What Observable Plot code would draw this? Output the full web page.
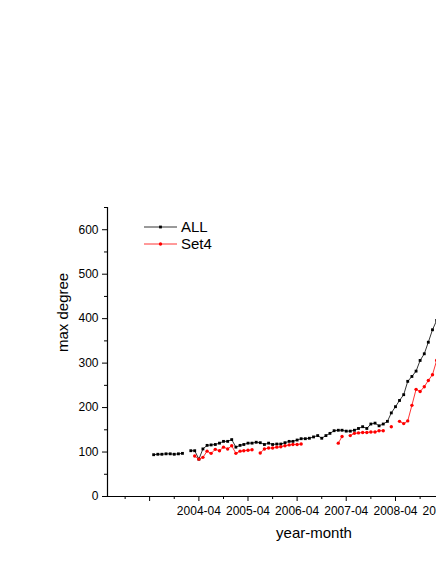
<!DOCTYPE html>
<html>
<head>
<meta charset="utf-8">
<script src="https://cdn.jsdelivr.net/npm/d3@7"></script>
<script src="https://cdn.jsdelivr.net/npm/@observablehq/plot@0.6"></script>
<style>
  html, body { margin: 0; padding: 0; background: #fff; overflow: hidden; }
  #wrap { position: relative; width: 436px; height: 564px; overflow: hidden; background: #fff; }
  #wrap svg { max-width: none !important; display: block; }
  #legend { position: absolute; left: 0; top: 0; pointer-events: none; }
</style>
</head>
<body>
<div id="wrap"></div>
<script>
// Months (year-month) of the observations
const months = [
  "2003-05","2003-06","2003-07","2003-08","2003-09","2003-10","2003-11","2003-12",
  "2004-01","2004-02","2004-03","2004-04","2004-05","2004-06","2004-07","2004-08","2004-09","2004-10","2004-11","2004-12",
  "2005-01","2005-02","2005-03","2005-04","2005-05","2005-06","2005-07","2005-08","2005-09","2005-10","2005-11","2005-12",
  "2006-01","2006-02","2006-03","2006-04","2006-05","2006-06","2006-07","2006-08","2006-09","2006-10","2006-11","2006-12",
  "2007-01","2007-02","2007-03","2007-04","2007-05","2007-06","2007-07","2007-08","2007-09","2007-10","2007-11","2007-12",
  "2008-01","2008-02","2008-03","2008-04","2008-05","2008-06","2008-07","2008-08","2008-09","2008-10","2008-11","2008-12",
  "2009-01","2009-02"
];
// Series "ALL" (max degree); null = no observation
const allValues = [
  94, 95, 95, 96, 96, 95, 96, 97,
  null, 103, 103, 84, 107, 115, 116, 117, 120, 124, 124, 128,
  111, 115, 117, 120, 120, 122, 121, 117, 120, 117, 118, 118,
  121, 124, 124, 127, 130, 130, 131, 134, 137, 131, 137, 142,
  148, 149, 149, 147, 147, 149, 153, 157, 153, 163, 165, 159,
  163, 169, 188, 202, 216, 229, 259, 270, 282, 306, 321, 347,
  375, 396
];
// Series "Set4"
const set4Values = [
  null, null, null, null, null, null, null, null,
  null, null, 91, 84, 88, 102, 97, 106, 103, 111, 107, 114,
  97, 102, 103, 104, 105, null, 98, 107, 109, 109, 111, 112,
  114, 116, 117, 117, 118, null, null, null, null, null, null, null,
  null, 120, 135, null, 137, 142, 143, 144, 144, 145, 145, 148,
  148, null, 157, null, 169, 164, 170, 205, 241, 236, 247, 261,
  274, 306
];
// Axis ticks
const xMajorTicks = ["2003-04","2004-04","2005-04","2006-04","2007-04","2008-04","2009-04"];
const xMajorLabels = ["","2004-04","2005-04","2006-04","2007-04","2008-04","2009-04"];
const xMinorTicks = ["2002-10","2003-10","2004-10","2005-10","2006-10","2007-10","2008-10","2009-10"];
const yMajorTicks = [0, 100, 200, 300, 400, 500, 600];
const yMinorTicks = [50, 150, 250, 350, 450, 550, 650];
const xDomainText = ["2002-05-23", "2009-11-24"];
const yDomain = [0, 650];

const parse = d3.utcParse("%Y-%m");
const parseDay = d3.utcParse("%Y-%m-%d");
const data = months.map((m, i) => ({date: parse(m), all: allValues[i], set4: set4Values[i]}));
const majorDates = xMajorTicks.map(parse);
const labelOf = new Map(majorDates.map((d, i) => [+d, xMajorLabels[i]]));
const minorDates = xMinorTicks.map(parse);
const xDomain = xDomainText.map(parseDay);

const font = "'Liberation Sans', Arial, Helvetica, sans-serif";

const chart = Plot.plot({
  width: 480,
  height: 564,
  marginLeft: 107,
  marginRight: 4,
  marginTop: 207,
  marginBottom: 68,
  style: {fontFamily: font, fontSize: "12px", background: "#fff", color: "#000", overflow: "visible", maxWidth: "none"},
  x: {type: "utc", domain: xDomain},
  y: {domain: yDomain},
  marks: [
    Plot.axisY(yMajorTicks, {tickSize: 5, tickPadding: 4, fontSize: 12, label: null, stroke: "#000", strokeWidth: 1}),
    Plot.axisY(yMinorTicks, {tickSize: 3, tickFormat: () => "", label: null, stroke: "#000", strokeWidth: 1}),
    Plot.axisX(majorDates, {tickSize: 5, tickPadding: 5, fontSize: 12, tickFormat: d => labelOf.get(+d), label: null, stroke: "#000", strokeWidth: 1}),
    Plot.axisX(minorDates, {tickSize: 3, tickFormat: () => "", label: null, stroke: "#000", strokeWidth: 1}),
    Plot.ruleX([xDomain[0]], {stroke: "#000", strokeWidth: 1.2}),
    Plot.ruleY([yDomain[0]], {stroke: "#000", strokeWidth: 1.2}),
    Plot.line(data, {x: "date", y: "all", stroke: "#000", strokeWidth: 0.8}),
    Plot.dot(data, {x: "date", y: "all", symbol: "square", r: 1.6, fill: "#000", stroke: "none"}),
    Plot.line(data, {x: "date", y: "set4", stroke: "#ff0000", strokeWidth: 0.8}),
    Plot.dot(data, {x: "date", y: "set4", r: 1.7, fill: "#ff0000", stroke: "none"}),
    Plot.text(["max degree"], {frameAnchor: "left", rotate: -90, dx: -44, fontSize: 15, fill: "#000"}),
    Plot.text(["year-month"], {frameAnchor: "bottom", dx: 22, dy: 41, fontSize: 15, fill: "#000"})
  ]
});

const wrap = document.getElementById("wrap");
wrap.appendChild(chart);

// Legend overlay (inside the plot area, top-left)
const legendItems = [
  {name: "ALL", color: "#000", symbol: "square"},
  {name: "Set4", color: "#ff0000", symbol: "circle"}
];
const ns = "http://www.w3.org/2000/svg";
const lg = document.createElementNS(ns, "svg");
lg.setAttribute("id", "legend");
lg.setAttribute("width", 436);
lg.setAttribute("height", 564);
legendItems.forEach((it, i) => {
  const y = 227 + i * 17;
  const line = document.createElementNS(ns, "line");
  line.setAttribute("x1", 144); line.setAttribute("x2", 177);
  line.setAttribute("y1", y); line.setAttribute("y2", y);
  line.setAttribute("stroke", it.color); line.setAttribute("stroke-width", 0.8);
  lg.appendChild(line);
  if (it.symbol === "square") {
    const r = document.createElementNS(ns, "rect");
    r.setAttribute("x", 159.1); r.setAttribute("y", y - 1.4);
    r.setAttribute("width", 2.8); r.setAttribute("height", 2.8);
    r.setAttribute("fill", it.color);
    lg.appendChild(r);
  } else {
    const c = document.createElementNS(ns, "circle");
    c.setAttribute("cx", 160.5); c.setAttribute("cy", y); c.setAttribute("r", 1.7);
    c.setAttribute("fill", it.color);
    lg.appendChild(c);
  }
  const t = document.createElementNS(ns, "text");
  t.setAttribute("x", 181); t.setAttribute("y", y);
  t.setAttribute("dy", "0.36em");
  t.setAttribute("font-family", font);
  t.setAttribute("font-size", 15);
  t.setAttribute("fill", "#000");
  t.textContent = it.name;
  lg.appendChild(t);
});
wrap.appendChild(lg);
</script>
</body>
</html>
